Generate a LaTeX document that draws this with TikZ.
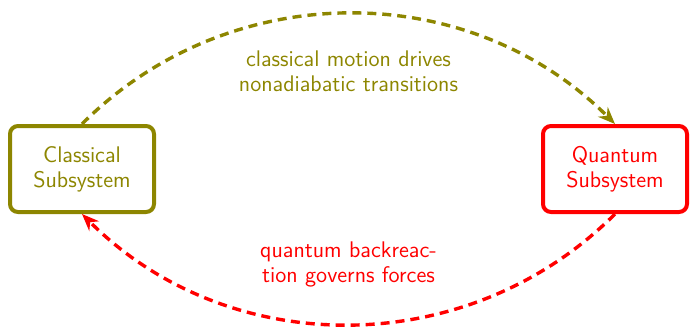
\documentclass[tikz,border=0pt]{standalone}
\usepackage{xcolor}
\usepackage{tikz}
\usetikzlibrary{positioning,arrows.meta}

\begin{document}
\begin{tikzpicture}[
    x=1pt,y=1pt,
    font=\sffamily\fontsize{11.3}{12.4}\selectfont,
    subsys/.style={rectangle,draw,line width=2pt,rounded corners=4pt,minimum width=72pt,
                  minimum height=43pt,align=center,fill=white},
    arrow/.style={-{Stealth[length=3mm,width=2.4mm]},line width=1.7pt,dash pattern=on 4.5pt off 3pt},
    lbl/.style={align=center}
]
\useasboundingbox (0,0) rectangle (345.5,164.5);

\node[subsys,draw=olive,text=olive] (classical) at (41,80)    {Classical\\Subsystem};
\node[subsys,draw=red,text=red]     (quantum)   at (307.5,80) {Quantum\\Subsystem};

\draw[arrow,olive] (classical.north) to[bend left=45]
    node[below=5mm,lbl,text=olive]{classical motion drives\\nonadiabatic transitions} (quantum.north);
\draw[arrow,red] (quantum.south) to[bend left=45]
    node[above=5mm,lbl,text=red]{quantum backreac-\\tion governs forces} (classical.south);
\end{tikzpicture}
\end{document}
